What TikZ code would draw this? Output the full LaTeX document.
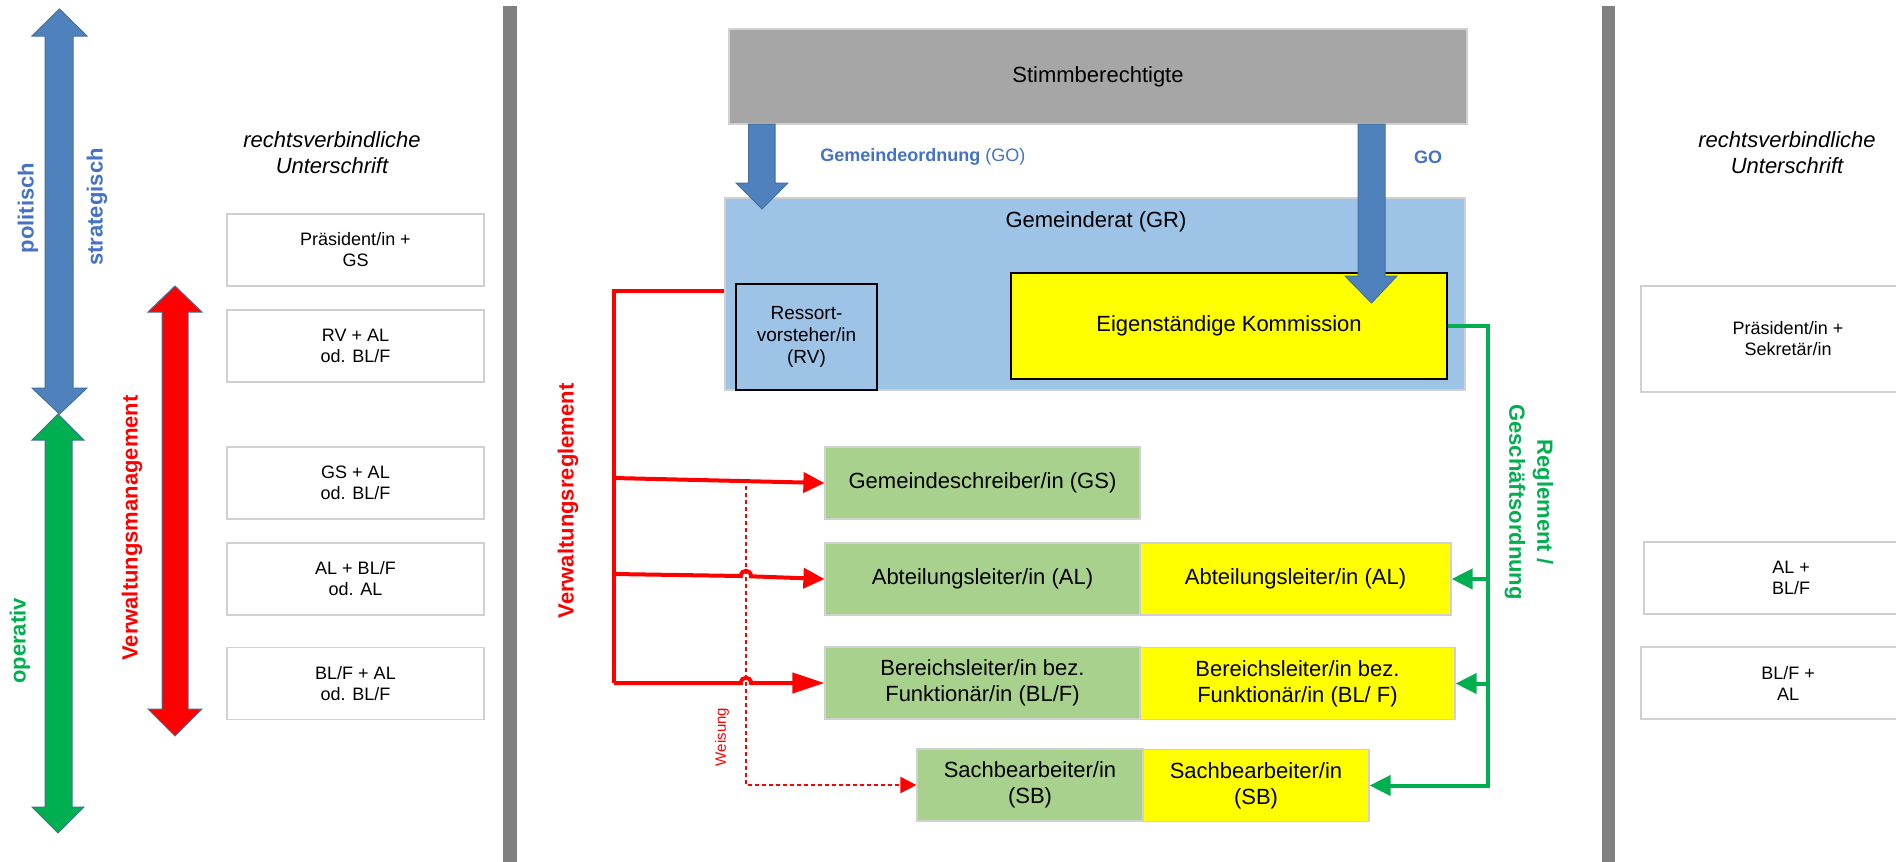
\documentclass[tikz,border=0pt]{standalone}
\usepackage{fontspec}
\setmainfont{Liberation Sans}
\usetikzlibrary{arrows.meta}
\definecolor{blueA}{HTML}{4F81BD}
\definecolor{blueEdge}{HTML}{41719C}
\definecolor{blueText}{HTML}{4472C4}
\definecolor{greenA}{HTML}{00B050}
\definecolor{redA}{HTML}{FF0000}
\definecolor{grayBox}{HTML}{A6A6A6}
\definecolor{lightBlue}{HTML}{9DC3E6}
\definecolor{lightGreen}{HTML}{A9D18E}
\definecolor{yellowA}{HTML}{FFFF00}
\definecolor{barGray}{HTML}{808080}
\definecolor{edgeGray}{HTML}{D0D0D0}
\begin{document}
\begin{tikzpicture}[x=0.5pt,y=-0.5pt,
  fA/.style={font=\fontsize{11}{13}\selectfont},
  fB/.style={font=\fontsize{9}{10.5}\selectfont},
  vlabel/.style={rotate=90,font=\bfseries\fontsize{11}{13}\selectfont,inner sep=0pt},
  sigtitle/.style={font=\itshape\fontsize{11}{13}\selectfont,align=center,inner sep=0pt},
  sigbox/.style={draw=edgeGray,line width=0.7pt,fill=white,minimum width=128.5pt,minimum height=36pt,align=center,inner sep=0pt,fB},
  orgbox/.style={draw=edgeGray,line width=0.6pt,minimum height=36pt,align=center,inner sep=0pt,fA},
  greenbox/.style={orgbox,fill=lightGreen,minimum width=157.5pt},
  yellowbox/.style={orgbox,fill=yellowA},
  blockarrow/.style={fill=blueA,draw=blueEdge,line width=0.5pt},
  redline/.style={draw=redA,line width=2pt},
  greenline/.style={draw=greenA,line width=2pt},
  dotline/.style={draw=redA,line width=1pt,dash pattern=on 2pt off 1.5pt},
  tipR/.style={-{Triangle[length=10.5pt,width=10pt]}},
  tipG/.style={-{Triangle[length=10.5pt,width=10pt]}}
]
\useasboundingbox (0,0) rectangle (1896,862);
\fill[white] (0,0) rectangle (1896,862);

% separator bars
\fill[barGray] (503,6) rectangle (517,862);
\fill[barGray] (1602,6) rectangle (1615,862);

% left double arrows
\filldraw[blockarrow] (59.5,9) -- (87,36) -- (73,36) -- (73,388) -- (87,388) -- (59.5,414) -- (32,388) -- (45,388) -- (45,36) -- (32,36) -- cycle;
\filldraw[fill=greenA,draw=blueEdge,line width=0.5pt] (58,414) -- (84,440) -- (72,440) -- (72,807) -- (84,807) -- (58,833) -- (32,807) -- (45,807) -- (45,440) -- (32,440) -- cycle;
\filldraw[fill=redA,draw=blueEdge,line width=0.5pt] (175,286) -- (202,312) -- (188,312) -- (188,709) -- (202,709) -- (175,736) -- (148,709) -- (162,709) -- (162,312) -- (148,312) -- cycle;

\node[vlabel,text=blueText] (polit) at (28,208) {politisch};
\node[vlabel,text=blueText] (strat) at (97,207) {strategisch};
\node[vlabel,text=greenA] (oper) at (20,641) {operativ};
\node[vlabel,text=redA] (vm) at (132,528) {Verwaltungsmanagement};

% left signature column
\node[sigtitle] (sigL) at (332,153) {rechtsverbindliche\\Unterschrift};
\node[sigbox] (sL1) at (355.5,250) {Präsident/in +\\GS};
\node[sigbox] (sL2) at (355.5,346) {RV + AL\\od. BL/F};
\node[sigbox] (sL3) at (355.5,483) {GS + AL\\od. BL/F};
\node[sigbox] (sL4) at (355.5,579) {AL + BL/F\\od. AL};
\node[sigbox] (sL5) at (355.5,683.5) {BL/F + AL\\od. BL/F};

% center
\node[draw=edgeGray,line width=0.6pt,fill=grayBox,minimum width=369pt,minimum height=47.5pt,inner sep=0pt,fA] (stimm) at (1098,76.5) {Stimmberechtigte};
\node[draw=edgeGray,line width=0.6pt,fill=lightBlue,minimum width=370pt,minimum height=96pt,inner sep=0pt] (gr) at (1095,294) {};
\node[fA,inner sep=0pt] (grlabel) at (1096,222) {Gemeinderat (GR)};
\node[draw=black,line width=0.6pt,fill=lightBlue,minimum width=70.5pt,minimum height=53pt,inner sep=0pt,align=center,font=\fontsize{9.5}{11}\selectfont] (rv) at (806.5,337) {Ressort-\\vorsteher/in\\(RV)};
\node[draw=black,line width=0.7pt,fill=yellowA,minimum width=218pt,minimum height=53pt,inner sep=0pt,fA] (eigen) at (1229,326) {Eigenständige Kommission};

% blue block arrows from Stimmberechtigte
\filldraw[blockarrow] (748.5,124) -- (775,124) -- (775,183) -- (788,183) -- (762,209) -- (736,183) -- (748.5,183) -- cycle;
\filldraw[blockarrow] (1358,124) -- (1385,124) -- (1385,276) -- (1397,276) -- (1371.5,303) -- (1345,276) -- (1358,276) -- cycle;
\node[anchor=west,inner sep=0pt,text=blueText,font=\fontsize{9}{11}\selectfont] (golabel) at (820,157) {\textbf{Gemeindeordnung} (GO)};
\node[inner sep=0pt,text=blueText,font=\bfseries\fontsize{9}{11}\selectfont] (golabel2) at (1428,157) {GO};

% staff boxes
\node[greenbox] (gs) at (982.5,483) {Gemeindeschreiber/in (GS)};
\node[greenbox] (alg) at (982.5,579) {Abteilungsleiter/in (AL)};
\node[yellowbox,minimum width=155.5pt] (aly) at (1295.5,579) {Abteilungsleiter/in (AL)};
\node[greenbox] (blg) at (982.5,683) {Bereichsleiter/in bez.\\Funktionär/in (BL/F)};
\node[yellowbox,minimum width=157.5pt] (bly) at (1297.5,683.5) {Bereichsleiter/in bez.\\Funktionär/in (BL/ F)};
\node[greenbox,minimum width=113pt] (sbg) at (1030,785) {Sachbearbeiter/in\\(SB)};
\node[yellowbox,minimum width=113pt] (sby) at (1256,785.5) {Sachbearbeiter/in\\(SB)};

% red Verwaltungsreglement lines
\coordinate (tTop) at (614,291);
\coordinate (tGS) at (614,478);
\coordinate (tAL) at (614,574);
\coordinate (tBL) at (614,683);
\draw[redline,line join=miter] (gr.west |- tTop) -- (tTop) -- (tBL);
\draw[redline,tipR] (tGS) -- (gs.west);
\draw[redline,tipR] (tAL) -- (741,576) .. controls (741,569) and (751,569) .. (751,576.3) -- (alg.west);
\draw[redline,-{Triangle[length=16pt,width=10pt]}] (tBL) -- (741,683) .. controls (741,676) and (751,676) .. (751,683) -- (blg.west);
\node[vlabel,text=redA] (vr) at (568,501) {Verwaltungsreglement};

% Weisung dotted line
\coordinate (wTop) at (746,486);
\draw[dotline,-{Triangle[length=8pt,width=8pt]}] (wTop) -- (wTop |- sbg.west) -- (sbg.west);
\node[rotate=90,inner sep=0pt,text=redA,font=\fontsize{7.5}{9}\selectfont] (weis) at (722,737) {Weisung};

% green Reglement lines
\coordinate (gTop) at (1488,326);
\draw[greenline,tipG,line join=miter] (eigen.east) -- (gTop) -- (gTop |- sby.east) -- (sby.east);
\draw[greenline,tipG] (gTop |- aly.east) -- (aly.east);
\draw[greenline,tipG] (gTop |- bly.east) -- (bly.east);
\node[rotate=-90,inner sep=0pt,align=center,text=greenA,font=\bfseries\fontsize{11}{14}\selectfont] (regl) at (1529,502) {Reglement /\\Geschäftsordnung};

% right signature column
\node[sigtitle] (sigR) at (1787,153) {rechtsverbindliche\\Unterschrift};
\begin{scope}
\clip (0,0) rectangle (1896,862);
\node[sigbox,minimum width=147pt,minimum height=53pt] (sR1) at (1788,339) {Präsident/in +\\Sekretär/in};
\node[sigbox,minimum width=147pt] (sR2) at (1791,578) {AL +\\BL/F};
\node[sigbox,minimum width=147pt] (sR3) at (1788,683) {BL/F +\\AL};
\end{scope}
\end{tikzpicture}
\end{document}
